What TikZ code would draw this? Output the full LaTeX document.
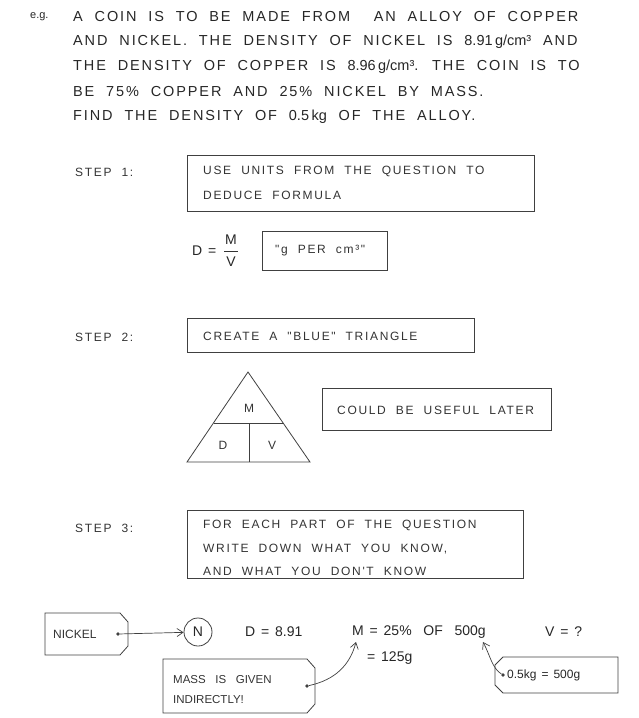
\documentclass[tikz,border=0pt]{standalone}
\usepackage{fontspec}
\setmainfont{Liberation Sans}
\newfontfamily\widef[LetterSpace=13,WordSpace=2]{Liberation Sans}
\newfontfamily\smf[LetterSpace=14,WordSpace=2]{Liberation Sans}
\newfontfamily\eqf[WordSpace=1.5]{Liberation Sans}
\usetikzlibrary{arrows.meta}
\begin{document}
\begin{tikzpicture}[x=1pt,y=-1pt,
  txt/.style={anchor=west,inner sep=0,font=\widef\fontsize{14.5}{16}\selectfont,text=black!85},
  eq/.style={anchor=west,inner sep=0,font=\eqf\fontsize{14}{16}\selectfont,text=black!85},
  sm/.style={anchor=west,inner sep=0,font=\smf\fontsize{12}{13}\selectfont,text=black!80},
  boxs/.style={draw=black!75,line width=0.8pt},
  dotc/.style={circle,fill=black!75,inner sep=1.3pt},
  arr/.style={-{Straight Barb[length=6pt,width=8pt]},draw=black!75,line width=0.7pt}]
\useasboundingbox (0,0) rectangle (639,718);
\node[eq,font=\eqf\fontsize{11}{13}\selectfont] (eg) at (30,17) {e.g.};
\node[txt] (h1) at (73,17) {A COIN IS TO BE MADE FROM\ \ AN ALLOY OF COPPER};
\node[txt] (h2) at (73,42) {AND NICKEL. THE DENSITY OF NICKEL IS {\eqf 8.91\,g/cm³} AND};
\node[txt] (h3) at (73,67) {THE DENSITY OF COPPER IS {\eqf 8.96\,g/cm³}. THE COIN IS TO};
\node[txt] (h4) at (73,92) {BE 75\% COPPER AND 25\% NICKEL BY MASS.};
\node[txt] (h5) at (73,117) {FIND THE DENSITY OF {\eqf 0.5\,kg} OF THE ALLOY.};
% step 1
\node[sm] (s1) at (75,172) {STEP 1:};
\draw[boxs] (187,155) rectangle (534,211);
\node[sm] (b1a) at (203,171) {USE UNITS FROM THE QUESTION TO};
\node[sm] (b1b) at (203,195) {DEDUCE FORMULA};
\node[eq] (dmv) at (192,251) {D =};
\node[eq,anchor=center] (fm) at (231,240) {M};
\node[eq,anchor=center] (fv) at (231,262) {V};
\draw[black!80,line width=0.7pt] (224,251) -- (238,251);
\draw[boxs] (262,231) rectangle (387,270);
\node[sm] (gpc) at (275,251) {"g PER cm³"};
% step 2
\node[sm] (s2) at (75,337) {STEP 2:};
\draw[boxs] (187,318) rectangle (474,352);
\node[sm] (b2) at (203,336) {CREATE A "BLUE" TRIANGLE};
\draw[boxs] (248,372) -- (310,462) -- (187,462) -- cycle;
\draw[boxs] (214,423) -- (283,423) (249,423) -- (249,462);
\node[sm,anchor=center] (tM) at (249,408) {M};
\node[sm,anchor=center] (tD) at (223,445) {D};
\node[sm,anchor=center] (tV) at (272,445) {V};
\draw[boxs] (322,388) rectangle (551,430);
\node[sm] (b3) at (337,410) {COULD BE USEFUL LATER};
% step 3
\node[sm] (s3) at (75,528) {STEP 3:};
\draw[boxs] (187,510) rectangle (523,578);
\node[sm] (b4a) at (203,525) {FOR EACH PART OF THE QUESTION};
\node[sm] (b4b) at (203,549) {WRITE DOWN WHAT YOU KNOW,};
\node[sm] (b4c) at (203,571) {AND WHAT YOU DON'T KNOW};
% bottom
\draw[boxs] (45,613) -- (120,613) -- (128,622) -- (128,646) -- (120,655) -- (45,655) -- cycle;
\node[sm,font=\eqf\fontsize{12}{13}\selectfont] (nick) at (53,634) {NICKEL};
\node[dotc] (nd) at (118,634) {};
\node[draw=black!75,circle,line width=0.8pt,minimum size=28pt,inner sep=0,font=\fontsize{14}{16}\selectfont,text=black!85] (N) at (198,632) {N};
\draw[arr] (nd) -- (N);
\node[eq] (D) at (245,632) {D = 8.91};
\node[eq] (Mx) at (352,632) {M = 25\% \ OF \ 500g};
\coordinate (Mb) at (356,642);
\coordinate (fb) at (483,642);
\node[eq] (V) at (545,632) {V = ?};
\node[eq] (m125) at (367,658) {= 125g};
\draw[boxs] (163,659) -- (307,659) -- (315,668) -- (315,704) -- (307,713) -- (163,713) -- cycle;
\node[sm,font=\eqf\fontsize{11.5}{13}\selectfont] (mg1) at (173,680) {MASS\ \ IS\ \ GIVEN};
\node[sm,font=\eqf\fontsize{11.5}{13}\selectfont] (mg2) at (173,700) {INDIRECTLY!};
\node[dotc] (md) at (307,686) {};
\draw[arr] (md) .. controls (335,680) and (350,665) .. (Mb);
\draw[boxs] (503,657) -- (618,657) -- (618,693) -- (503,693) -- (495,685) -- (495,665) -- cycle;
\node[eq,font=\eqf\fontsize{12}{14}\selectfont] (kg) at (507,675) {0.5kg = 500g};
\node[dotc] (kd) at (503,675) {};
\draw[arr] (kd) .. controls (492,668) and (490,655) .. (fb);
\end{tikzpicture}
\end{document}
